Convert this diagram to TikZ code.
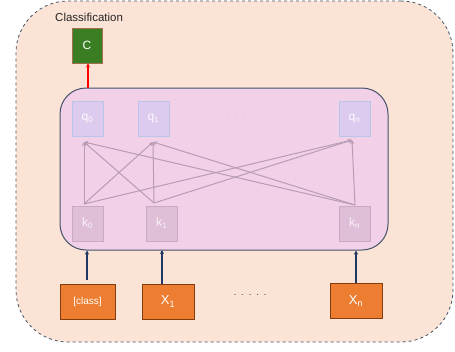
\documentclass[tikz,border=0pt]{standalone}
\usepackage{fontspec}
\setmainfont{Liberation Sans}
\usetikzlibrary{arrows.meta}
\definecolor{outerfill}{HTML}{FBE3D6}
\definecolor{innerfill}{HTML}{F2D0E8}
\definecolor{innerdraw}{HTML}{44546A}
\definecolor{qfill}{HTML}{DCCBEE}
\definecolor{qdraw}{HTML}{B9C6EA}
\definecolor{kfill}{HTML}{DFBFD8}
\definecolor{kdraw}{HTML}{CCA9C3}
\definecolor{linkcol}{HTML}{B79CB4}
\definecolor{orangebox}{HTML}{ED7D31}
\definecolor{orangedraw}{HTML}{843C0C}
\definecolor{greenbox}{HTML}{3B7D23}
\definecolor{greendraw}{HTML}{A0704E}
\definecolor{arrowblue}{HTML}{1F3864}
\tikzset{
  qbox/.style={draw=qdraw, fill=qfill, line width=0.8pt, minimum width=31pt, minimum height=35pt, inner sep=0pt, text=white!92!qfill, font=\fontsize{12}{12}\selectfont},
  kbox/.style={draw=kdraw, fill=kfill, line width=0.8pt, minimum width=31pt, minimum height=35pt, inner sep=0pt, text=white!80!kfill, font=\fontsize{12}{12}\selectfont},
  xbox/.style={draw=orangedraw, fill=orangebox, line width=0.8pt, minimum height=35pt, inner sep=0pt, text=white, font=\fontsize{13}{13}\selectfont},
  link/.style={draw=linkcol, line width=1pt, -{Stealth[length=4pt,width=4pt]}},
  inarrow/.style={draw=arrowblue, line width=1.1pt, -{Stealth[length=4pt,width=4pt]}}
}
\begin{document}
\begin{tikzpicture}[x=1pt,y=-1pt]
\useasboundingbox (0,0) rectangle (455,351);
% outer container
\node[draw=innerdraw, dashed, line width=0.8pt, fill=outerfill, rounded corners=52pt, minimum width=437pt, minimum height=341pt, inner sep=0pt] (outer) at (234.5,171.5) {};
% inner transformer block
\node[draw=innerdraw, line width=1pt, fill=innerfill, rounded corners=26pt, minimum width=328pt, minimum height=162pt, inner sep=0pt] (inner) at (224,169) {};
% classification
\node[anchor=west, font=\fontsize{11.5}{11.5}\selectfont, text=black!85, inner sep=0pt] (clslabel) at (55,17) {Classification};
\node[draw=greendraw, fill=greenbox, line width=0.9pt, minimum width=30pt, minimum height=35pt, inner sep=0pt, text=white, font=\fontsize{12}{12}\selectfont] (C) at (87,45.5) {C};
\coordinate (innertopC) at (88,88);
\draw[red, line width=1.1pt, -{Stealth[length=4pt,width=4pt]}] (innertopC) -- (C.south -| innertopC);
% queries
\node[qbox] (q0) at (87.5,118.5) {q\textsubscript{0}};
\node[qbox] (q1) at (153.5,118.5) {q\textsubscript{1}};
\node[qbox] (qn) at (354.5,118.5) {q\textsubscript{n}};
\node[text=linkcol!80, font=\fontsize{8}{8}\selectfont] (qdots) at (236,115) {.\hspace{5pt}.\hspace{5pt}.\hspace{5pt}.\hspace{5pt}.};
% keys
\node[kbox] (k0) at (87.5,223.5) {k\textsubscript{0}};
\node[kbox] (k1) at (161.5,223.5) {k\textsubscript{1}};
\node[kbox] (kn) at (354.5,223.5) {k\textsubscript{n}};
% attachment points
\coordinate (a0) at (84,142);
\coordinate (a1) at (153,142);
\coordinate (an) at (352,140);
\coordinate (b0) at (84,204);
\coordinate (b1) at (154,203);
\coordinate (bn) at (355,205);
\foreach \b in {b0,b1,bn}{
  \foreach \a in {a0,a1,an}{
    \draw[link] (\b) -- (\a);
  }
}
% inputs
\node[xbox, minimum width=55pt, font=\fontsize{10}{10}\selectfont] (cls) at (87.5,301.5) {[class]};
\node[xbox, minimum width=52pt] (x1) at (168,301.5) {X\textsubscript{1}};
\node[xbox, minimum width=52pt] (xn) at (356,301) {X\textsubscript{n}};
\node[font=\fontsize{9}{9}\selectfont, text=black!80] (xdots) at (250,295) {.\hspace{5pt}.\hspace{5pt}.\hspace{5pt}.\hspace{5pt}.};
\coordinate (clsstart) at (87,280);
\draw[inarrow] (clsstart) -- (clsstart |- inner.south);
\draw[inarrow] (x1.north -| 162,0) -- (162,250);
\draw[inarrow] (xn.north) -- (xn.north |- inner.south);
\end{tikzpicture}
\end{document}
